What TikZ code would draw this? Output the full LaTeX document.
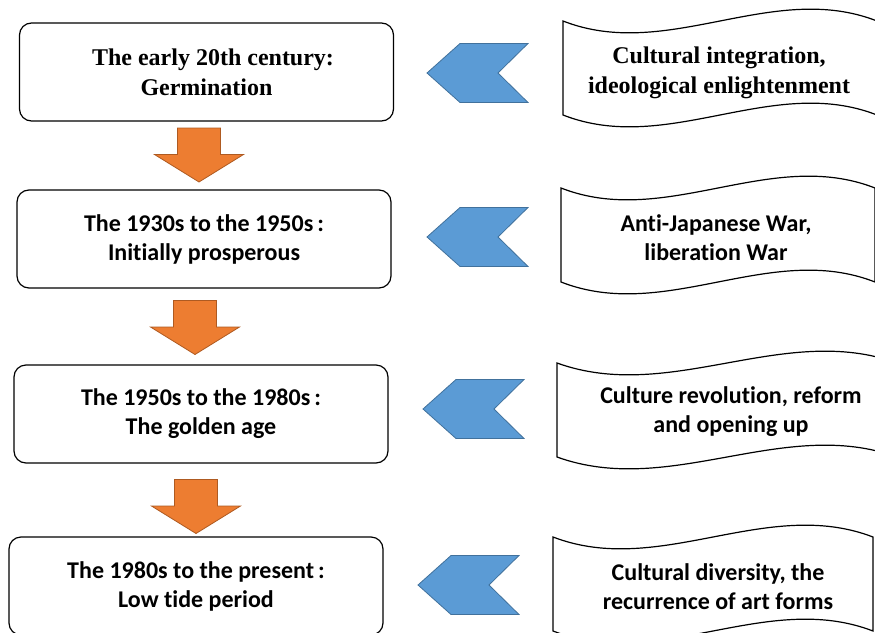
\documentclass[tikz,border=0pt]{standalone}
\usepackage{fontspec}
\setmainfont{Carlito}[Ligatures=NoCommon]
\newfontfamily\timesf{Liberation Serif}
\definecolor{arrorange}{HTML}{ED7D31}
\definecolor{arrorangedk}{HTML}{AE5A21}
\definecolor{arrblue}{HTML}{5B9BD5}
\definecolor{arrbluedk}{HTML}{41719C}
% left x, top y, bottom y, width
\newcommand{\tapebox}[4]{%
  \draw[tape] (#1,#2) .. controls +(#4/3,-41) and +(-#4/3,41) .. ++(#4,0)
    -- (#1+#4,#3) .. controls +(-#4/3,41) and +(#4/3,-41) .. ++(-#4,0) -- cycle;}
\newcommand{\wcolon}{\hspace{4pt}:\hspace{17pt}}
\tikzset{
  period/.style={draw,rounded corners=12pt,line width=1.2pt,minimum width=374pt,
    minimum height=98pt,inner sep=0pt,align=center,
    font=\bfseries\fontsize{24}{29}\selectfont},
  serifperiod/.style={period,font=\timesf\bfseries\fontsize{24}{30}\selectfont},
  tape/.style={draw,fill=white,line width=1.2pt},
  cause/.style={align=center,inner sep=0pt,font=\bfseries\fontsize{24}{29}\selectfont},
  serifcause/.style={cause,font=\timesf\bfseries\fontsize{24}{30}\selectfont},
  nextarrow/.pic={\draw[fill=arrorange,draw=arrorangedk,line width=0.8pt]
    (-21.5,26.5) -- (21.5,26.5) -- (21.5,0) -- (44.5,0) -- (0,-27.5) -- (-44.5,0) -- (-21.5,0) -- cycle;},
  backarrow/.pic={\draw[fill=arrblue,draw=arrbluedk,line width=0.8pt]
    (0,0) -- (33,29.5) -- (101,29.5) -- (71,0) -- (101,-29.5) -- (33,-29.5) -- cycle;}
}
\begin{document}
\begin{tikzpicture}[x=1pt,y=1pt]
  \useasboundingbox (0,0) rectangle (875,-632);
  % periods
  \node[serifperiod] (p1) at (206.5,-72) {\hspace*{13pt}The early 20th century:\\Germination};
  \node[period] (p2) at (204,-239) {The 1930s to the 1950s\wcolon\\Initially prosperous};
  \node[period] (p3) at (201,-414) {The 1950s to the 1980s\wcolon\\The golden age};
  \node[period] (p4) at (196,-586) {The 1980s to the present\wcolon\\Low tide period};
  \pic at (199,-154.5) {nextarrow};
  \pic at (195,-327) {nextarrow};
  \pic at (196,-506) {nextarrow};
  % causes
  \tapebox{563}{-21}{-115}{314}
  \tapebox{561}{-188}{-282}{314}
  \tapebox{557}{-363}{-457}{340}
  \tapebox{553}{-537}{-631}{320}
  \node[serifcause] (c1) at (719,-73) {Cultural integration,\\ideological enlightenment};
  \node[cause] (c2) at (716,-238) {Anti-Japanese War,\\liberation War};
  \node[cause] (c3) at (731,-412) {Culture revolution, reform\\and opening up};
  \node[cause] (c4) at (718,-587) {Cultural diversity, the\\recurrence of art forms};
  \pic at (427,-73) {backarrow};
  \pic at (427,-237) {backarrow};
  \pic at (423,-409) {backarrow};
  \pic at (418,-585) {backarrow};
\end{tikzpicture}
\end{document}
